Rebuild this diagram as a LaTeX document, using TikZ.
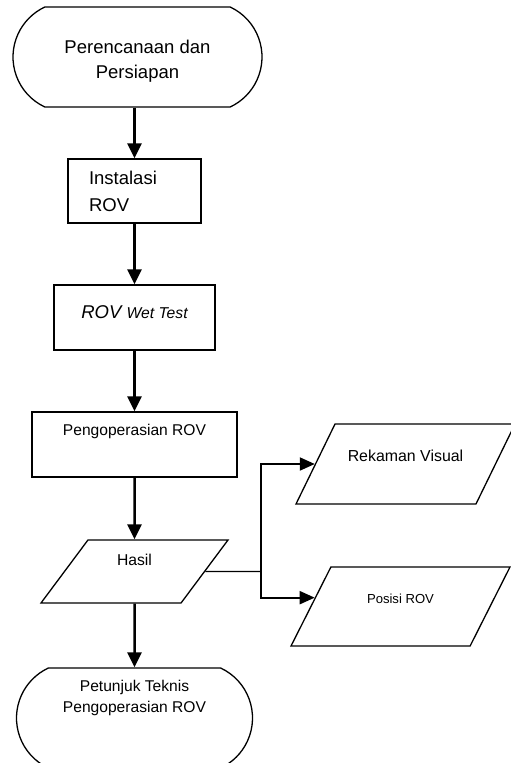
\documentclass[tikz,border=0pt]{standalone}
\usepackage{fontspec}
\setmainfont{Liberation Sans}
\usetikzlibrary{arrows.meta,positioning,calc,shapes.geometric,shapes.misc}
\newcommand{\fs}[2]{\fontsize{#1pt}{#2pt}\selectfont}
\tikzset{
  term/.style ={draw, rounded rectangle, rounded rectangle arc length=130, line width=1.3pt, align=center, inner sep=0pt},
  proc/.style ={draw, rectangle, line width=1.3pt, align=center, inner sep=0pt},
  io/.style   ={draw, trapezium, trapezium stretches body, line width=1.3pt, align=center, inner sep=0pt},
  arr/.style  ={-{Triangle[length=15pt,width=14pt]}, line width=2.5pt},
  arrb/.style ={-{Triangle[length=15pt,width=13pt]}, line width=2pt},
  link/.style ={line width=1.2pt},
}
\begin{document}
\begin{tikzpicture}[x=1pt, y=-1pt]
  \useasboundingbox (0,0) rectangle (511,763);
  % main column
  \node[term, minimum width=249pt, minimum height=100pt, font=\fs{18.5}{25}] (start) at (137.5,57)
    {\rule{0pt}{21.5pt}Perencanaan dan\\Persiapan};
  \node[proc, below=50.7pt of start, xshift=-3pt, minimum height=64pt, text width=91pt, align=left,
    inner xsep=21pt, font=\fs{18.5}{27}] (instal) {Instalasi\\ROV};
  \node[proc, below=60.7pt of instal, minimum width=161pt, minimum height=65pt, text depth=11pt,
    font=\fs{18.5}{22}\itshape] (wet) {ROV {\fs{15.7}{19}Wet Test}};
  \node[proc, below=60.7pt of wet, minimum width=205pt, minimum height=65pt, text depth=30pt,
    font=\fs{15.6}{19}] (oper) {Pengoperasian ROV};
  \node[io, below=61.7pt of oper, trapezium left angle=53.3, trapezium right angle=126.7,
    minimum width=187pt, minimum height=63pt, text height=25pt, text depth=38pt,
    font=\fs{15.7}{19}] (hasil) {Hasil};
  \node[term, below=63.7pt of hasil, minimum width=236pt, minimum height=100pt, text depth=44pt,
    font=\fs{15.6}{21}] (fin) {Petunjuk Teknis\\Pengoperasian ROV};
  % outputs
  \node[io, trapezium left angle=64, trapezium right angle=116, minimum width=219pt,
    minimum height=80pt, text height=37.7pt, text depth=42.3pt, font=\fs{15.9}{19}]
    (rekam) at (405.5,464) {Rekaman Visual};
  \node[io, trapezium left angle=63.2, trapezium right angle=116.8, minimum width=219pt,
    minimum height=79pt, text height=36.7pt, text depth=42.3pt, font=\fs{13.1}{16}]
    (posisi) at (400.5,606.5) {Posisi ROV};
  \draw[arr] (start.south -| instal) -- (instal);
  \draw[arr] (instal) -- (wet);
  \draw[arr] (wet) -- (oper);
  \draw[arr] (oper) -- (hasil);
  \draw[arr] (hasil) -- (fin);
  % branch to outputs
  \coordinate (fork) at (261,571.5);
  \coordinate (pin) at ($(posisi.top left corner)!0.39!(posisi.bottom left corner)$);
  \draw[link] (hasil.east) -- (fork);
  \draw[arrb] (fork) |- (rekam.west);
  \draw[arrb] (fork) |- (pin);
\end{tikzpicture}
\end{document}
